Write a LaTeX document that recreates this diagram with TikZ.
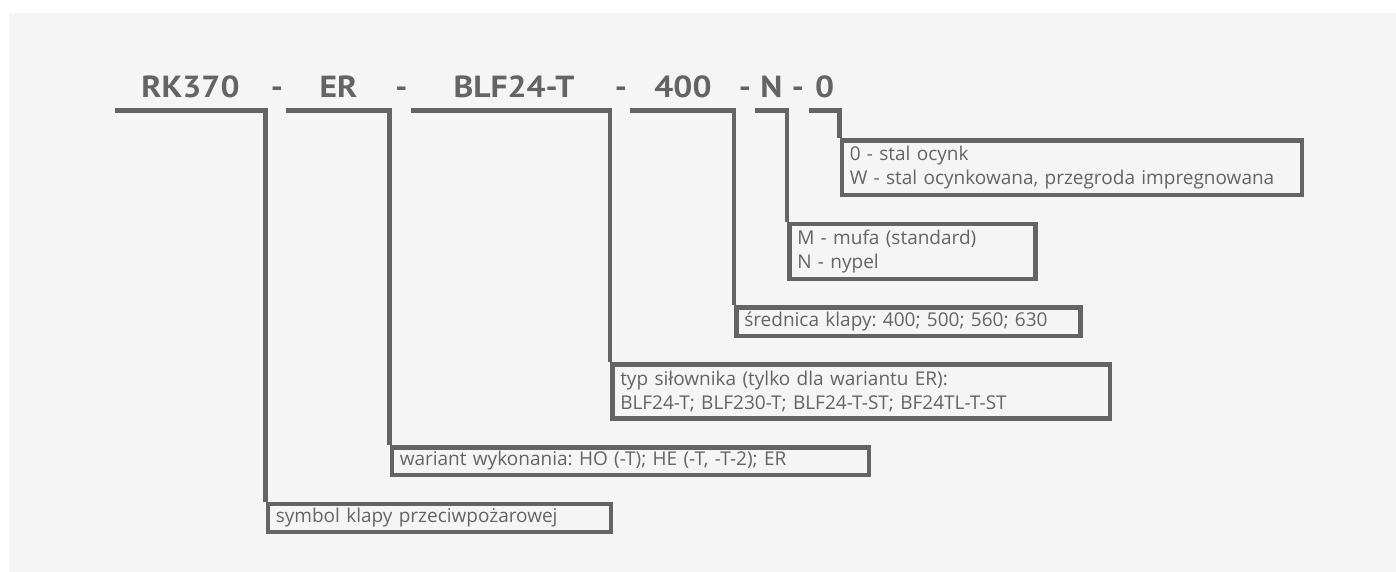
\documentclass[tikz,border=0pt]{standalone}
\usepackage{fontspec}
\setmainfont{Open Sans}
\newfontfamily\hdrfont[FakeStretch=1.1]{PT Sans}
\frenchspacing
\definecolor{ink}{HTML}{646464}
\definecolor{bg}{HTML}{F5F5F5}
\tikzset{
  code/.style={font=\hdrfont\fontsize{30.5}{30}\bfseries\selectfont, text=ink, anchor=base, inner sep=0pt},
  desc/.style={draw=ink, line width=4.5pt, anchor=north west, inner xsep=8pt, inner ysep=0pt,
    align=left, font=\fontsize{19}{24}\selectfont, text=ink},
  link/.style={draw=ink, line width=4.8pt, line join=miter}
}
\begin{document}
\begin{tikzpicture}[x=1pt,y=-1pt]
\useasboundingbox (0,0) rectangle (1396,572);
\fill[white] (0,0) rectangle (1396,572);
\fill[bg] (9,13) rectangle (1396,572);

% header code
\node[code] (h1) at (190.5,98) {RK370};
\node[code] (d1) at (277,98) {-};
\node[code] (h2) at (338.5,98) {ER};
\node[code] (d2) at (401.5,98) {-};
\node[code] (h3) at (514,98) {BLF24-T};
\node[code] (d3) at (621,98) {-};
\node[code] (h4) at (683,98) {400};
\node[code] (d4) at (745,98) {-};
\node[code] (h5) at (771.5,98) {N};
\node[code] (d5) at (798,98) {-};
\node[code] (h6) at (824.5,98) {0};

% description boxes
\node[desc, minimum width=343pt, minimum height=28pt, text width=327pt] (b1) at (265.5,501.5)
  {symbol klapy przeciwpożarowej};
\node[desc, minimum width=477pt, minimum height=27.5pt, text width=461pt] (b2) at (389.5,445)
  {wariant wykonania: HO (-T); HE (-T, -T-2); ER};
\node[desc, minimum width=497.5pt, minimum height=54pt, text width=481.5pt] (b3) at (610,362)
  {typ siłownika (tylko dla wariantu ER):\\BLF24-T; BLF230-T; BLF24-T-ST; BF24TL-T-ST};
\node[desc, minimum width=344pt, minimum height=28.5pt, text width=328pt] (b4) at (734,305)
  {średnica klapy: 400; 500; 560; 630};
\node[desc, minimum width=246pt, minimum height=55pt, text width=230pt] (b5) at (787,221.5)
  {M - mufa (standard)\\N - nypel};
\node[desc, minimum width=460pt, minimum height=54pt, text width=444pt] (b6) at (839.5,138.5)
  {0 - stal ocynk\\W - stal ocynkowana, przegroda impregnowana};

% connectors
\coordinate (s1) at (115,110.5);
\coordinate (s2) at (286,110.5);
\coordinate (s3) at (411,110.5);
\coordinate (s4) at (630,110.5);
\coordinate (s5) at (755,110.5);
\coordinate (s6) at (809,110.5);
\draw[link] (s1) -- (s1 -| b1.north west) -- (b1.north west);
\draw[link] (s2) -- (s2 -| b2.north west) -- (b2.north west);
\draw[link] (s3) -- (s3 -| b3.north west) -- (b3.north west);
\draw[link] (s4) -- (s4 -| b4.north west) -- (b4.north west);
\draw[link] (s5) -- (s5 -| b5.north west) -- (b5.north west);
\draw[link] (s6) -- (s6 -| b6.north west) -- (b6.north west);
\end{tikzpicture}
\end{document}
